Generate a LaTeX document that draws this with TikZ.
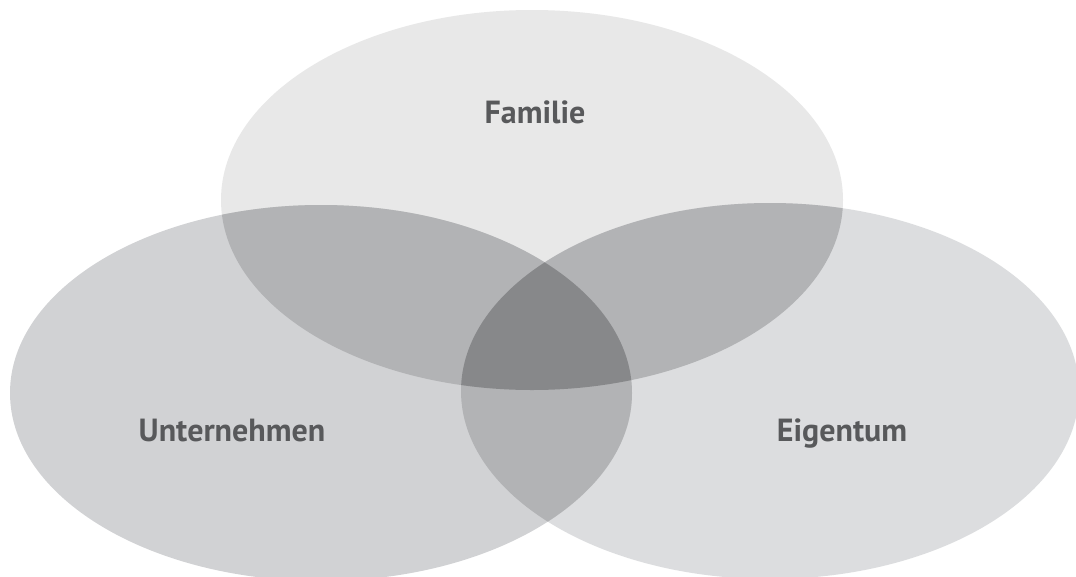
\documentclass[tikz,border=0pt]{standalone}
\usepackage{fontspec}
\setmainfont{PT Sans}
\definecolor{topc}{HTML}{E8E8E8}
\definecolor{leftc}{HTML}{D1D2D4}
\definecolor{rightc}{HTML}{DCDDDF}
\definecolor{pairc}{HTML}{B2B3B5}
\definecolor{midc}{HTML}{87888A}
\definecolor{txtc}{HTML}{58595B}
\tikzset{
  lbl/.style={font=\bfseries\fontsize{32}{36}\selectfont, text=txtc, inner sep=0pt, anchor=base},
}
\def\topE{(532,200) ellipse [x radius=311pt, y radius=190pt]}
\def\leftE{(321,393) ellipse [x radius=311pt, y radius=188pt]}
\def\rightE{(770,391) ellipse [x radius=309pt, y radius=188pt]}
\begin{document}
\begin{tikzpicture}[x=1pt,y=-1pt]
\useasboundingbox (0,0) rectangle (1076,576);
\fill[white] (0,0) rectangle (1076,576);
\fill[topc] \topE;
\fill[rightc] \rightE;
\fill[leftc] \leftE;
\begin{scope}\clip \topE; \fill[pairc] \leftE; \fill[pairc] \rightE; \end{scope}
\begin{scope}\clip \leftE; \fill[pairc] \rightE; \end{scope}
\begin{scope}\clip \topE; \clip \leftE; \fill[midc] \rightE; \end{scope}
\node[lbl] (familie) at (535,123) {Familie};
\node[lbl] (unternehmen) at (232,441) {Unternehmen};
\node[lbl] (eigentum) at (842,441) {Eigentum};
\end{tikzpicture}
\end{document}
